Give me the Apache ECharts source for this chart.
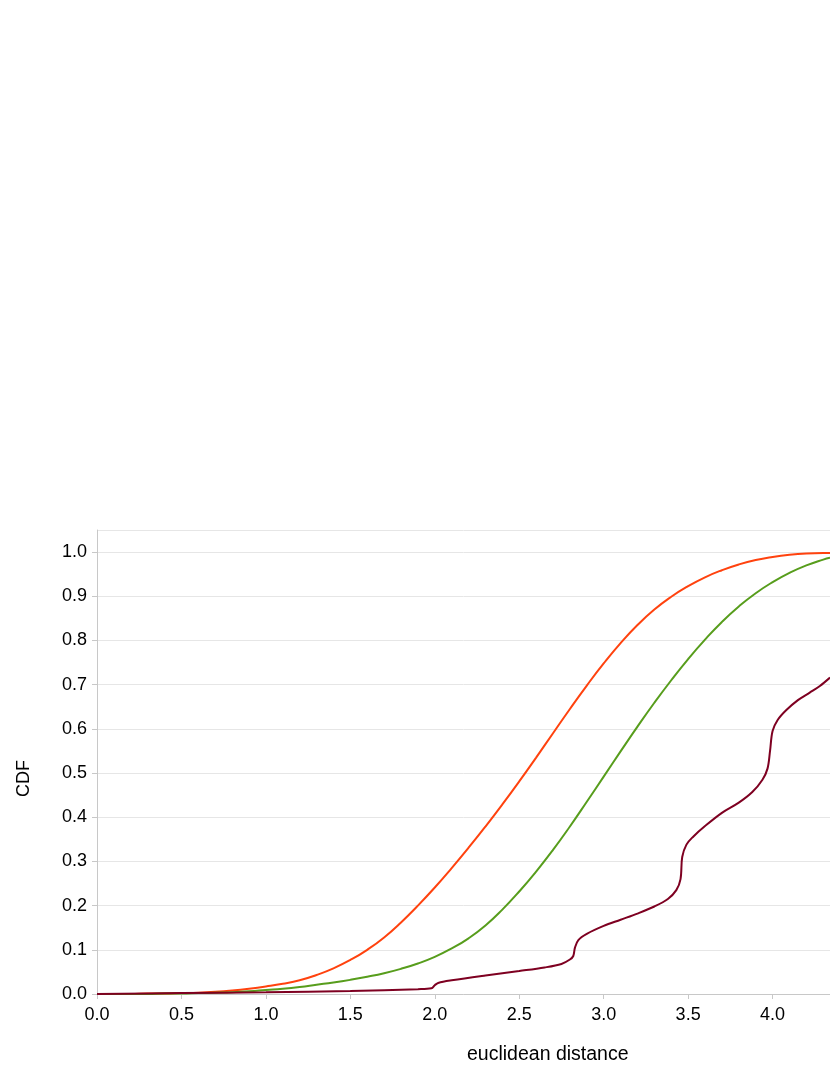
<!DOCTYPE html>
<html>
<head>
<meta charset="utf-8">
<script src="https://cdn.jsdelivr.net/npm/echarts@6/dist/echarts.min.js"></script>
<style>
html,body{margin:0;padding:0;background:#fff;}
#chart{width:830px;height:1075px;}
</style>
</head>
<body>
<div id="chart"></div>
<script>
// Shared x grid for the two smooth curves
const distX = [0.0,0.1,0.2,0.3,0.4,0.5,0.6,0.7,0.8,0.9,1.0,1.1,1.2,1.3,1.4,1.5,1.6,1.7,1.8,1.9,2.0,2.1,2.2,2.3,2.4,2.5,2.6,2.7,2.8,2.9,3.0,3.1,3.2,3.3,3.4,3.5,3.6,3.7,3.8,3.9,4.0,4.1,4.2,4.3,4.34];
const orangeCdf = [0.000,0.000,0.000,0.001,0.001,0.002,0.003,0.005,0.008,0.012,0.017,0.023,0.031,0.043,0.058,0.077,0.100,0.128,0.162,0.200,0.241,0.285,0.331,0.379,0.429,0.481,0.535,0.590,0.645,0.698,0.748,0.794,0.835,0.870,0.899,0.923,0.943,0.959,0.972,0.982,0.989,0.994,0.997,0.998,0.998];
const greenCdf = [0.000,0.000,0.000,0.000,0.001,0.001,0.002,0.003,0.004,0.006,0.009,0.012,0.016,0.021,0.026,0.032,0.039,0.047,0.057,0.069,0.084,0.103,0.126,0.155,0.191,0.232,0.277,0.326,0.379,0.435,0.492,0.549,0.605,0.659,0.710,0.758,0.802,0.842,0.877,0.907,0.932,0.953,0.970,0.983,0.987];
// Third curve with step-like jumps
const redX = [0.0,0.5,1.0,1.5,1.9,1.98,2.0,2.02,2.1,2.3,2.5,2.65,2.75,2.8,2.82,2.83,2.85,2.9,3.0,3.1,3.2,3.3,3.38,3.43,3.455,3.465,3.49,3.53,3.6,3.7,3.8,3.88,3.94,3.97,3.985,4.0,4.03,4.08,4.15,4.22,4.28,4.34];
const redCdf = [0.000,0.002,0.004,0.007,0.011,0.013,0.020,0.025,0.031,0.042,0.052,0.060,0.068,0.078,0.086,0.105,0.122,0.136,0.154,0.168,0.182,0.198,0.215,0.235,0.260,0.310,0.338,0.356,0.380,0.410,0.433,0.457,0.485,0.510,0.550,0.595,0.620,0.642,0.665,0.682,0.697,0.716];
const yTicks = ['0.0','0.1','0.2','0.3','0.4','0.5','0.6','0.7','0.8','0.9','1.0'];
const xTitle = 'euclidean distance';
const yTitle = 'CDF';

const pair = (xs, ys) => xs.map((x, i) => [x, ys[i]]);
const chart = echarts.init(document.getElementById('chart'), null, {renderer: 'canvas'});
const font = 'Liberation Sans, Arial, sans-serif';
chart.setOption({
  animation: false,
  backgroundColor: '#ffffff',
  grid: {left: 97, right: 0, top: 530, bottom: 81, containLabel: false},
  xAxis: {
    type: 'value', min: 0, max: 4.34, interval: 0.5,
    axisLine: {show: true, lineStyle: {color: '#c8c8c8', width: 1}},
    axisTick: {show: true, length: 5, lineStyle: {color: '#c8c8c8'}},
    splitLine: {show: false},
    axisLabel: {color: '#000', fontFamily: font, fontSize: 18, margin: 12, showMaxLabel: false,
      formatter: v => v.toFixed(1)}
  },
  yAxis: {
    type: 'value', min: 0, max: 1.05, interval: 0.1,
    axisLine: {show: true, lineStyle: {color: '#c8c8c8', width: 1}},
    axisTick: {show: true, length: 5, lineStyle: {color: '#c8c8c8'}},
    splitLine: {show: true, lineStyle: {color: '#e6e6e6', width: 1}},
    axisLabel: {color: '#000', fontFamily: font, fontSize: 18, margin: 10, showMaxLabel: false,
      formatter: v => { const i = Math.round(v * 10); return (Math.abs(v * 10 - i) < 1e-6 && yTicks[i]) ? yTicks[i] : ''; }}
  },
  graphic: [
    {type: 'text', left: 467, top: 1045, style: {text: xTitle, fill: '#000', font: '19.5px ' + font}},
    {type: 'text', x: 15, y: 797, rotation: Math.PI / 2, style: {text: yTitle, fill: '#000', font: '18px ' + font}}
  ],
  series: [
    {type: 'line', data: pair(distX, orangeCdf), showSymbol: false, smooth: true,
      lineStyle: {color: '#ff420e', width: 2}, itemStyle: {color: '#ff420e'}},
    {type: 'line', data: pair(distX, greenCdf), showSymbol: false, smooth: true,
      lineStyle: {color: '#579d1c', width: 2}, itemStyle: {color: '#579d1c'}},
    {type: 'line', data: pair(redX, redCdf), showSymbol: false, smooth: 0.35,
      lineStyle: {color: '#7e0021', width: 2}, itemStyle: {color: '#7e0021'}}
  ]
});
</script>
</body>
</html>
